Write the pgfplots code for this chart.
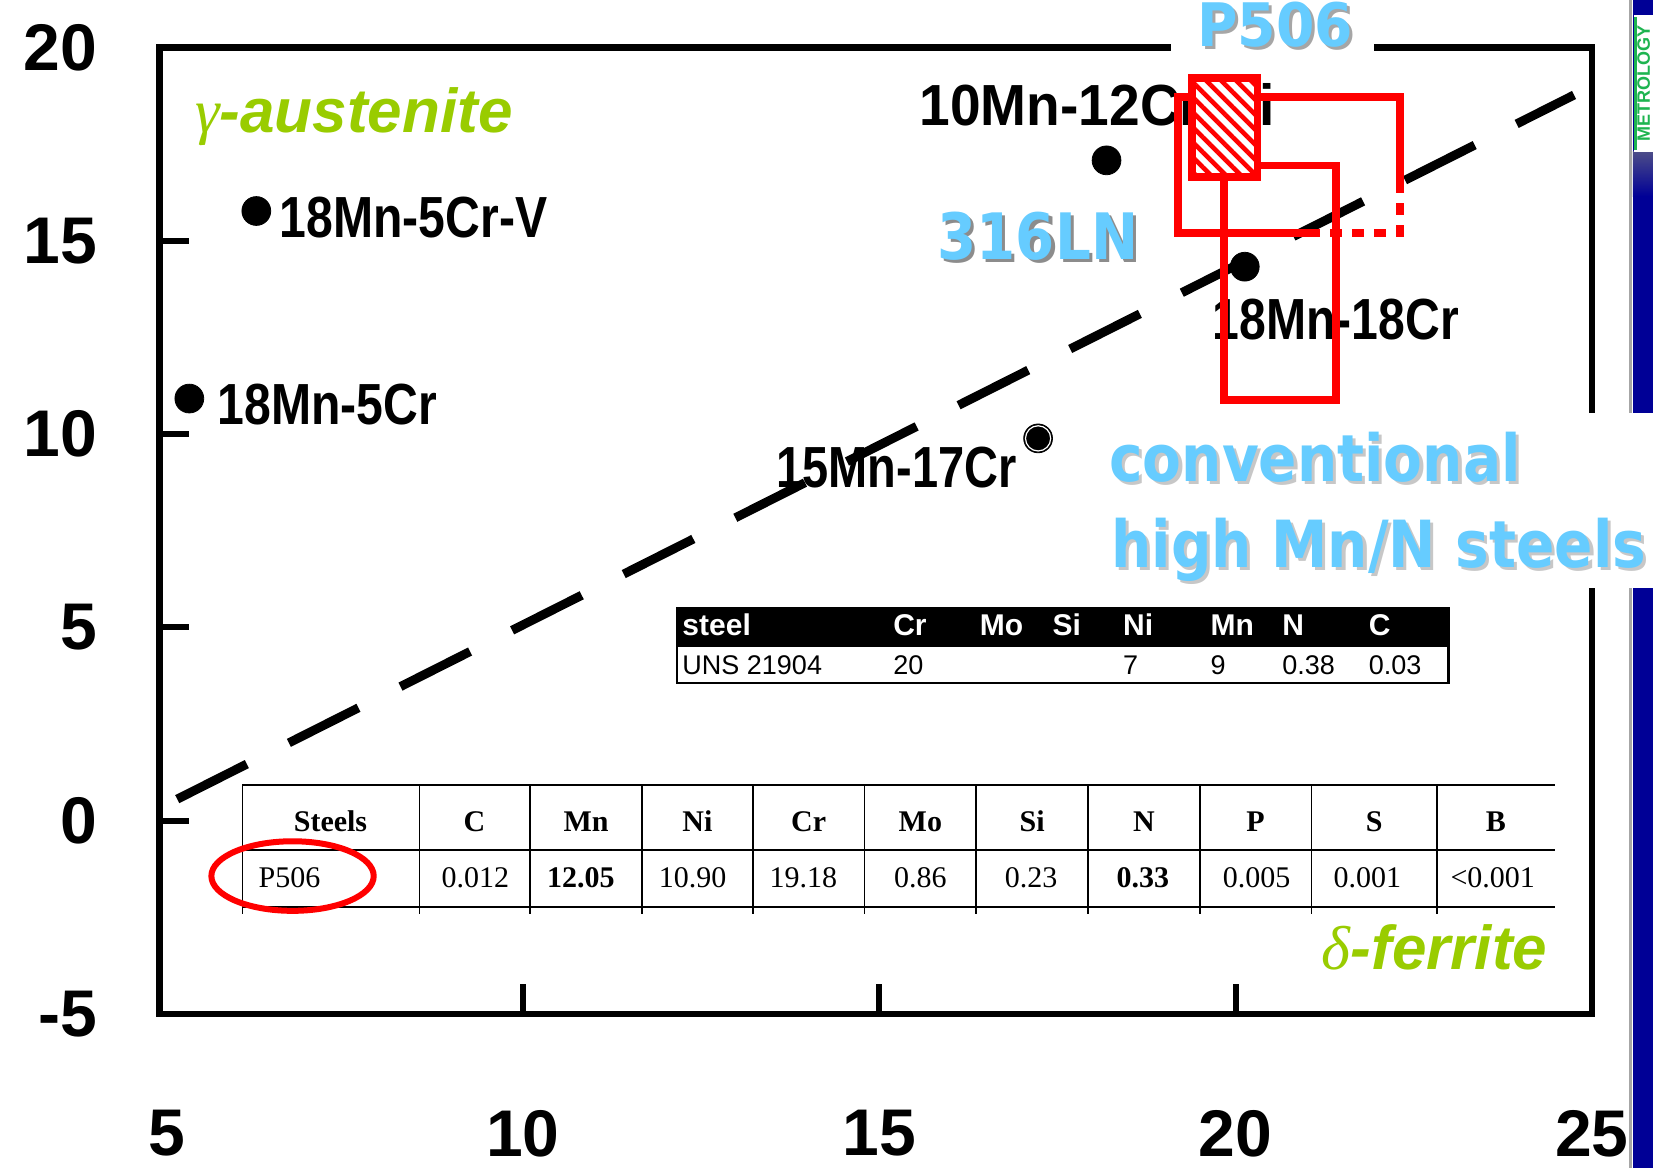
\documentclass[border=0pt]{standalone}
\usepackage{fontspec}
\usepackage{graphicx}
\usepackage{pgfplots}
\pgfplotsset{compat=1.18}
\usetikzlibrary{patterns.meta}
\setmainfont{Liberation Sans}
\newfontfamily\serifff{Liberation Serif}
\newfontfamily\blueff{DejaVu Sans}
\definecolor{lgreen}{RGB}{153,204,0}
\definecolor{lblue}{RGB}{102,204,255}
\definecolor{sblue}{RGB}{0,0,150}
\definecolor{logogreen}{RGB}{30,180,80}
\newcommand{\fs}[1]{\fontsize{#1}{#1}\selectfont}
\newcommand{\blab}[2]{\scalebox{#1}[1]{\bfseries\fs{29pt}#2}}
\newcommand{\btx}[3]{\scalebox{#1}[1]{\blueff\bfseries\fs{#2}#3}}
\tikzset{px/.style={shift={(-79.70pt,507.07pt)}, x=0.5271pt, y=-0.5271pt}}
\begin{document}
\begin{tikzpicture}
\useasboundingbox (-79.70pt,-76.96pt) rectangle (746.79pt,507.07pt);
\fill[white] (-79.70pt,-76.96pt) rectangle (746.79pt,507.07pt);
% ---------- black labels (under the plot layer) ----------
\begin{scope}[px]
\node[anchor=base west, inner sep=0] at (265,225) {\blab{0.83}{18Mn-5Cr-V}};
\node[anchor=base west, inner sep=0] at (206,403) {\blab{0.83}{18Mn-5Cr}};
\node[anchor=base west, inner sep=0] at (872,119) {\blab{0.95}{10Mn-12Cr-Ni}};
\node[anchor=base west, inner sep=0] at (1150,322) {\blab{0.83}{18Mn-18Cr}};
\node[anchor=base west, inner sep=0] at (736,462) {\blab{0.81}{15Mn-17Cr}};
\end{scope}
% ---------- axis ----------
\begin{axis}[
  at={(0,0)}, anchor=south west,
  scale only axis, width=716.2pt, height=483.35pt,
  xmin=4.9, xmax=25, ymin=-5, ymax=20,
  axis line style={line width=3.2pt, line cap=rect},
  xtick={10,15,20}, xticklabels={10,15,20},
  ytick={0,5,10,15}, yticklabels={0,5,10,15},
  extra x ticks={5,25}, extra x tick labels={5,25},
  extra y ticks={-5,20}, extra y tick labels={-5,20},
  extra x tick style={major tick length=0pt},
  extra y tick style={major tick length=0pt},
  xtick pos=left, ytick pos=left,
  tick align=inside,
  major tick length=15pt,
  tick style={black, line width=3pt},
  ticklabel style={font=\bfseries\fs{33pt}},
  xticklabel style={anchor=center, inner sep=0pt, yshift=-59.6pt},
  yticklabel style={anchor=east, inner sep=0pt, xshift=-31pt},
  clip=false,
]
% dashed boundary line
\addplot[black, line width=4.5pt, dash pattern=on 39pt off 23.5pt] coordinates {(5.15,0.56) (24.75,18.77)};
% steels
\addplot[only marks, mark=*, mark size=7.2pt, black] coordinates {(6.26,15.77) (5.32,10.92) (18.19,17.08) (20.13,14.33) (17.23,9.89)};
\addplot[only marks, mark=o, mark size=6.3pt, mark options={draw=white, line width=0.6pt}] coordinates {(17.23,9.89)};
% 316LN range (large box)
\addplot[red, line width=3.8pt] coordinates {(21.15,15.20) (19.19,15.20) (19.19,18.72) (22.31,18.72) (22.31,16.54)};
\addplot[red, line width=3.8pt, dash pattern=on 6pt off 5pt] coordinates {(22.31,16.54) (22.31,15.20) (21.15,15.20)};
% conventional high Mn/N range (tall box)
\addplot[red, line width=3.8pt] coordinates {(19.84,10.89) (21.41,10.89) (21.41,16.95) (19.84,16.95) (19.84,10.89) (21.41,10.89)};
% P506 (hatched box)
\addplot[red, line width=3.8pt, preaction={fill=white}, pattern={Lines[angle=-45,distance=5.3pt,line width=2.3pt]}, pattern color=red] coordinates {(19.39,16.65) (20.31,16.65) (20.31,19.21) (19.39,19.21) (19.39,16.65) (20.31,16.65)};
\end{axis}
% ---------- overlays ----------
\begin{scope}[px]
% right slide strip
\fill[sblue] (1549,0) rectangle (1568,1108);
\draw[gray!70, line width=1.2pt] (1546.5,0) -- (1546.5,1108);
\shade[top color=sblue!40!gray, bottom color=sblue] (1549,144) rectangle (1568,186);
\fill[white] (1549.5,14) rectangle (1568,144);
\draw[logogreen, line width=1.5pt] (1551,16) -- (1551,142);
\node[rotate=90, anchor=base, inner sep=0, text=logogreen, font=\bfseries\fs{9pt}] at (1565,79) {METROLOGY};
% white backgrounds of the annotations
\fill[white] (1111,0) rectangle (1303,66);
\fill[white] (1040,392) rectangle (1568,558);
% blue annotations with shadow
\node[anchor=base, inner sep=0, text=black, text opacity=0.35] at (1212.5,47) {\btx{0.92}{30pt}{P506}};
\node[anchor=base, inner sep=0, text=lblue] at (1209.5,44) {\btx{0.92}{30pt}{P506}};
\node[anchor=base, inner sep=0, text=black, text opacity=0.45] at (987.5,249) {\btx{0.88}{32pt}{316LN}};
\node[anchor=base, inner sep=0, text=lblue] at (984.5,246) {\btx{0.88}{32pt}{316LN}};
\node[anchor=base west, inner sep=0, text=black, text opacity=0.22] at (1055,460) {\btx{0.87}{32.5pt}{conventional}};
\node[anchor=base west, inner sep=0, text=lblue] at (1052,457) {\btx{0.87}{32.5pt}{conventional}};
\node[anchor=base west, inner sep=0, text=black, text opacity=0.22] at (1057,541) {\btx{0.87}{32.5pt}{high Mn/N steels}};
\node[anchor=base west, inner sep=0, text=lblue] at (1054,538) {\btx{0.87}{32.5pt}{high Mn/N steels}};
% green phase names
\node[anchor=base west, inner sep=0, text=lgreen] at (185,126) {\fs{31pt}{\serifff\itshape γ}\bfseries\itshape -austenite};
\node[anchor=base east, inner sep=0, text=lgreen] at (1468,920) {\fs{31pt}{\serifff\itshape δ}\bfseries\itshape -ferrite};
% UNS 21904 table
\fill[white] (642,614) rectangle (1374,648);
\fill[black] (642,577) rectangle (1374,614);
\draw[black, line width=1.3pt] (642,577) rectangle (1374,648);
\foreach \x/\t in {647/steel, 847/Cr, 929/Mo, 998/Si, 1065/Ni, 1148/Mn, 1216/N, 1298/C}
  \node[anchor=base west, inner sep=0, text=white, font=\bfseries\fs{15pt}] at (\x,603) {\t};
\foreach \x/\t in {647/UNS 21904, 847/20, 1065/7, 1148/9, 1216/0.38, 1298/0.03}
  \node[anchor=base west, inner sep=0, font=\fs{13.5pt}] at (\x,640) {\t};
% P506 composition table
\fill[white] (230,745) rectangle (1475,867);
\draw[black, line width=1.1pt] (230,745) -- (1475,745);
\draw[black, line width=1.1pt] (230,806) -- (1475,806);
\draw[black, line width=1.1pt] (230,860) -- (1475,860);
\foreach \x in {230,398,503,609,714,820,926,1032,1138,1244,1363}
  \draw[black, line width=0.9pt] (\x,745) -- (\x,867);
\foreach \x/\t in {313.5/Steels, 450/C, 556/Mn, 661.5/Ni, 767/Cr, 873/Mo, 979/Si, 1085/N, 1191/P, 1303.5/S, 1419/B}
  \node[anchor=base, inner sep=0, font=\serifff\bfseries\fs{15pt}] at (\x,789) {\t};
\node[anchor=base west, inner sep=0, font=\serifff\fs{15pt}] at (245,842) {P506};
\foreach \x/\t in {451/0.012, 551/{\bfseries 12.05}, 657/10.90, 762/19.18, 873/0.86, 978/0.23, 1084/{\bfseries 0.33}, 1192/0.005, 1297/0.001, 1416/<0.001}
  \node[anchor=base, inner sep=0, font=\serifff\fs{15pt}] at (\x,842) {\t};
% red ellipse round P506
\draw[red, line width=3pt] (277.5,831) ellipse [x radius=77, y radius=33];
\end{scope}
\end{tikzpicture}
\end{document}
